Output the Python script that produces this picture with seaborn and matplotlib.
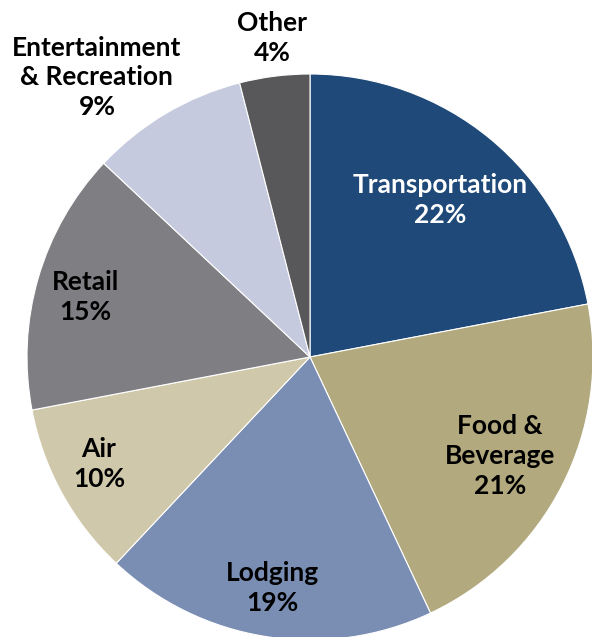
import matplotlib
matplotlib.use("Agg")
import matplotlib.pyplot as plt
import seaborn as sns

categories = ["Transportation", "Food &\nBeverage", "Lodging", "Air", "Retail",
              "Entertainment\n& Recreation", "Other"]
values = [22, 21, 19, 10, 15, 9, 4]
colors = ["#1E4978", "#B2AA7E", "#7A8DB3", "#CFC8AA", "#7F7F83", "#C5CADE", "#58585A"]
text_colors = ["white", "black", "black", "black", "black", "black", "black"]
label_pos = [(0.459, 0.555), (0.671, -0.350), (-0.134, -0.816), (-0.746, -0.378),
             (-0.795, 0.212), (-0.753, 0.989), (-0.134, 1.127)]

sns.set_theme(style="white")
plt.rcParams['font.family'] = ['Lato', 'DejaVu Sans']

W, H = 592, 637
fig = plt.figure(figsize=(W / 100, H / 100), dpi=100)
cx, cy, r = 310, 357, 283
ax = fig.add_axes([(cx - r) / W, (H - cy - r) / H, 2 * r / W, 2 * r / H])
wedges, _ = ax.pie(values, colors=colors, startangle=90, counterclock=False,
                   radius=1, wedgeprops=dict(edgecolor="white", linewidth=0.8))
ax.set_xlim(-1, 1)
ax.set_ylim(-1, 1)
ax.set_axis_off()
for w in wedges:
    w.set_clip_on(False)

for cat, v, (x, y), tc in zip(categories, values, label_pos, text_colors):
    ax.text(x, y, f"{cat}\n{v}%", ha="center", va="center", multialignment="center",
            fontsize=19, fontweight="bold", color=tc, linespacing=1.28, clip_on=False)

fig.savefig("out.png", dpi=100)
